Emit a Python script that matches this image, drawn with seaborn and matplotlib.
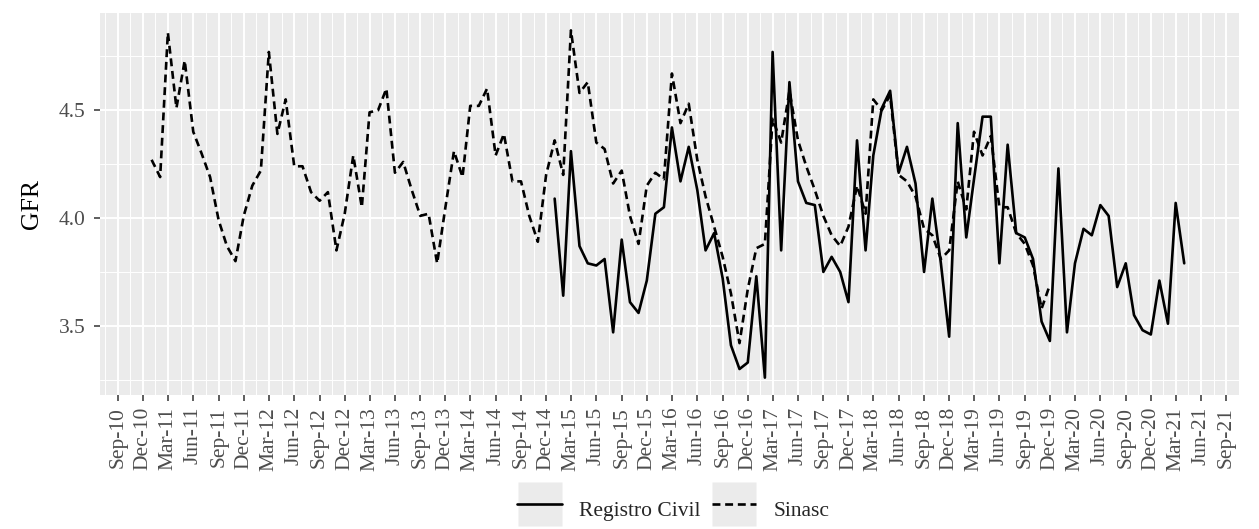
import pandas as pd
import matplotlib.pyplot as plt
import matplotlib.dates as mdates
from matplotlib.lines import Line2D
from matplotlib.legend_handler import HandlerTuple
import seaborn as sns

# Monthly GFR series (first of month)
sinasc_start = '2011-01-01'
sinasc_gfr = [4.27, 4.19, 4.86, 4.51, 4.73, 4.40, 4.30, 4.19, 3.99, 3.87, 3.80, 4.01,
              4.15, 4.22, 4.77, 4.39, 4.55, 4.24, 4.24, 4.12, 4.08, 4.12, 3.85, 4.02,
              4.29, 4.05, 4.49, 4.50, 4.60, 4.21, 4.26, 4.13, 4.01, 4.02, 3.79, 4.05,
              4.31, 4.19, 4.52, 4.52, 4.60, 4.29, 4.39, 4.17, 4.17, 4.01, 3.89, 4.20,
              4.36, 4.20, 4.87, 4.58, 4.63, 4.35, 4.32, 4.16, 4.22, 4.01, 3.88, 4.15,
              4.21, 4.18, 4.67, 4.44, 4.53, 4.27, 4.10, 3.96, 3.82, 3.65, 3.42, 3.67,
              3.86, 3.88, 4.46, 4.35, 4.59, 4.36, 4.24, 4.13, 4.01, 3.92, 3.87, 3.96,
              4.15, 4.02, 4.55, 4.50, 4.57, 4.20, 4.17, 4.10, 3.95, 3.92, 3.81, 3.85,
              4.17, 4.04, 4.40, 4.29, 4.38, 4.05, 4.05, 3.93, 3.88, 3.78, 3.58, 3.69]

registro_start = '2015-01-01'
registro_gfr = [4.09, 3.64, 4.31, 3.87, 3.79, 3.78, 3.81, 3.47, 3.90, 3.61, 3.56, 3.71,
                4.02, 4.05, 4.42, 4.17, 4.33, 4.13, 3.85, 3.93, 3.72, 3.41, 3.30, 3.33,
                3.73, 3.26, 4.77, 3.85, 4.63, 4.17, 4.07, 4.06, 3.75, 3.82, 3.75, 3.61,
                4.36, 3.85, 4.29, 4.51, 4.59, 4.21, 4.33, 4.16, 3.75, 4.09, 3.79, 3.45,
                4.44, 3.91, 4.18, 4.47, 4.47, 3.79, 4.34, 3.93, 3.91, 3.81, 3.52, 3.43,
                4.23, 3.47, 3.79, 3.95, 3.92, 4.06, 4.01, 3.68, 3.79, 3.55, 3.48, 3.46,
                3.71, 3.51, 4.07, 3.79]

source_labels = ['Registro Civil', 'Sinasc']
y_ticks = [3.5, 4.0, 4.5]
y_minor = [3.25, 3.75, 4.25, 4.75]
tick_dates = pd.date_range('2010-09-01', '2021-09-01', freq='3MS')

df = pd.concat([
    pd.DataFrame({'date': pd.date_range(registro_start, periods=len(registro_gfr), freq='MS'),
                  'GFR': registro_gfr, 'source': source_labels[0]}),
    pd.DataFrame({'date': pd.date_range(sinasc_start, periods=len(sinasc_gfr), freq='MS'),
                  'GFR': sinasc_gfr, 'source': source_labels[1]}),
], ignore_index=True)

sns.set_theme(style='darkgrid', rc={'axes.facecolor': '#EBEBEB', 'grid.color': 'white'})
plt.rcParams['font.family'] = ['Liberation Serif', 'DejaVu Serif']

fig, ax = plt.subplots(figsize=(12.59, 5.29), dpi=100)
fig.subplots_adjust(left=0.0794, right=0.9841, top=0.9754, bottom=0.2533)

lw = 1.9
dash = (3.0, 1.8)
sns.lineplot(data=df, x='date', y='GFR', style='source',
             dashes={'Registro Civil': '', 'Sinasc': dash},
             color='black', linewidth=lw, legend=False, ax=ax)

# ggplot-like 5% expansion
x0 = mdates.date2num(df['date'].min())
x1 = mdates.date2num(df['date'].max())
ax.set_xlim(x0 - 0.05 * (x1 - x0), x1 + 0.05 * (x1 - x0))
lo, hi = df['GFR'].min(), df['GFR'].max()
ax.set_ylim(lo - 0.05 * (hi - lo), hi + 0.05 * (hi - lo))

ax.set_xticks(tick_dates)
wide = pd.date_range('2010-06-01', '2021-12-01', freq='3MS')
mids = wide[:-1] + (wide[1:] - wide[:-1]) / 2
ax.set_xticks(mids, minor=True)
ax.xaxis.set_major_formatter(mdates.DateFormatter('%b-%y'))
ax.set_yticks(y_ticks)
ax.set_yticks(y_minor, minor=True)
ax.set_yticklabels([f'{v:.1f}' for v in y_ticks])

ax.grid(which='major', color='white', linewidth=1.4)
ax.grid(which='minor', color='white', linewidth=0.7)
ax.set_axisbelow(True)
for s in ax.spines.values():
    s.set_visible(False)

ax.tick_params(axis='both', which='major', bottom=True, left=True, length=4.5, width=1.1,
               color='#333333', labelcolor='#4D4D4D', labelsize=15.5)
ax.tick_params(axis='x', which='major', pad=4)
ax.tick_params(axis='y', which='major', pad=6)
ax.tick_params(axis='both', which='minor', length=0)
plt.setp(ax.get_xticklabels(), rotation=90, ha='center', va='top')

ax.set_xlabel('')
ax.set_ylabel('GFR', fontsize=18.5, color='black', labelpad=11)

# legend keys: grey square behind each line sample
key_box = dict(marker='s', markersize=31, markerfacecolor='#EBEBEB',
               markeredgecolor='none', linestyle='none')
handles = [(Line2D([], [], **key_box), Line2D([], [], color='black', lw=lw)),
           (Line2D([], [], **key_box), Line2D([], [], color='black', lw=lw, dashes=dash))]
fig.legend(handles, source_labels, handler_map={tuple: HandlerTuple(ndivide=1, pad=0)},
           loc='center', bbox_to_anchor=(673.5 / 1259, 0.038), ncol=2, frameon=False,
           numpoints=1, fontsize=15.5, handlelength=2.05, handleheight=2.0,
           handletextpad=0.8, columnspacing=0.55, borderpad=0)

plt.savefig('out.png', dpi=100)
